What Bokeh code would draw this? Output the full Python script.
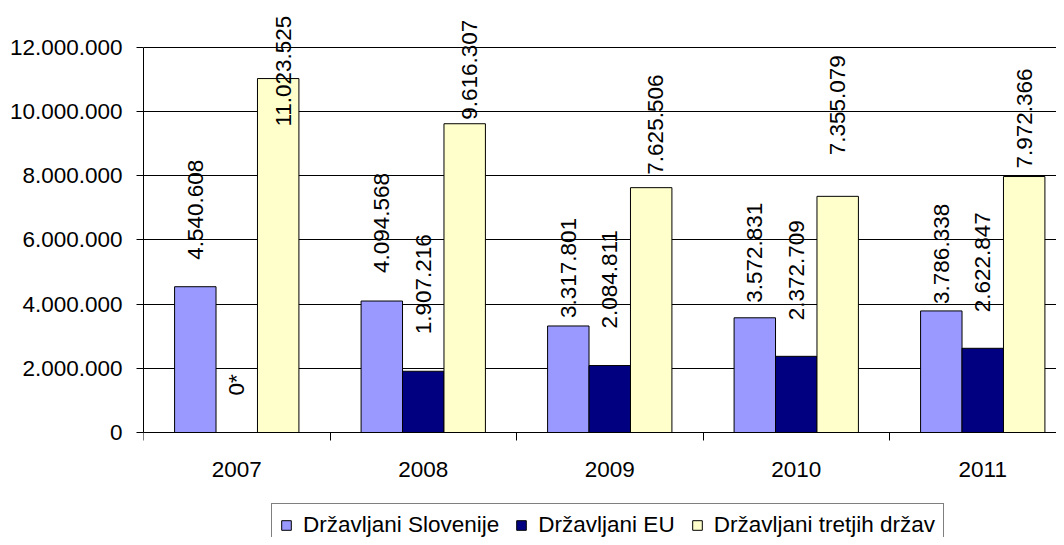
import math
from bokeh.plotting import figure
from bokeh.models import ColumnDataSource, Range1d, FixedTicker, Legend, LegendItem
from bokeh.core.properties import value
from bokeh.embed import file_html
from bokeh.resources import INLINE

# ---------------- data ----------------
years = ["2007", "2008", "2009", "2010", "2011"]
slovenia = [4540608, 4094568, 3317801, 3572831, 3786338]
eu = [0, 1907216, 2084811, 2372709, 2622847]
third = [11023525, 9616307, 7625506, 7355079, 7972366]
series_names = ["Državljani Slovenije", "Državljani EU", "Državljani tretjih držav"]
y_ticks = [0, 2000000, 4000000, 6000000, 8000000, 10000000, 12000000]
zero_note = "*"  # zero EU value is labelled "0*"

# ---------------- layout / style ----------------
FONT = "Liberation Sans"
colors = ["#9999FF", "#000080", "#FFFFCC"]
bar_w = 1 / 4.5
offsets = [-bar_w, 0.0, bar_w]
# manual label placement (pixels): gap above bar top, horizontal nudge
label_gap = [[27, 28, 8, 15, 7], [37, 37, 37, 36, 36], [-48, 4, 13, 41, 8]]
label_dx = [[0, 0, 0, 0, 0], [0, 0, 0, 0, 0], [5, 5, 4, 0, 0]]

W, H = 1056, 537
frame_left = 143
zero_px = 432           # pixel row of value 0 (from top)
px_per_cat = 186.5
px_per_unit = 385.3 / 12000000


def dots(v):
    return f"{v:,}".replace(",", ".")


p = figure(width=W, height=H, output_backend="svg", toolbar_location=None,
           x_range=Range1d(0, (W - frame_left) / px_per_cat),
           y_range=Range1d(-(H - zero_px) / px_per_unit, zero_px / px_per_unit),
           min_border_left=frame_left, min_border_right=0, min_border_top=0,
           min_border_bottom=0)
p.outline_line_color = None
p.background_fill_color = "white"
p.border_fill_color = "white"

series = [slovenia, eu, third]
renderers = []
for s, vals in enumerate(series):
    xs = [i + 0.5 + offsets[s] for i in range(len(years))]
    labels = []
    for v in vals:
        labels.append(dots(v) + (zero_note if v == 0 else ""))
    src = ColumnDataSource(dict(x=xs, top=vals, label=labels,
                                dy=[-g for g in label_gap[s]], dx=label_dx[s]))
    r = p.vbar(x="x", top="top", bottom=0, width=bar_w, source=src,
               fill_color=colors[s], line_color="black", line_width=1)
    renderers.append(r)
    p.text(x="x", y="top", text="label", source=src, angle=math.pi / 2,
           text_align="left", text_baseline="middle", x_offset="dx", y_offset="dy",
           text_font=value(FONT), text_font_size=value("22.5px"), text_color="black")

# x axis (drawn at value 0)
p.xaxis.fixed_location = 0
p.xaxis.ticker = FixedTicker(ticks=[i + 0.5 for i in range(len(years))],
                             minor_ticks=list(range(len(years) + 1)))
p.xaxis.major_label_overrides = {i + 0.5: y for i, y in enumerate(years)}
p.xaxis.major_tick_out = 0
p.xaxis.major_tick_in = 0
p.xaxis.minor_tick_out = 8
p.xaxis.minor_tick_in = 0
p.xaxis.minor_tick_line_color = "black"
p.xaxis.major_label_standoff = 21
p.xgrid.grid_line_color = None

# y axis
p.yaxis.ticker = FixedTicker(ticks=y_ticks, minor_ticks=[])
p.yaxis.bounds = (y_ticks[0], y_ticks[-1])
p.yaxis.major_label_overrides = {t: dots(t) for t in y_ticks}
p.yaxis.major_tick_out = 7
p.yaxis.major_tick_in = 0
p.yaxis.major_tick_line_color = "black"
p.yaxis.major_label_standoff = 14
p.ygrid.ticker = FixedTicker(ticks=y_ticks, minor_ticks=[])
p.ygrid.grid_line_color = "black"
p.ygrid.grid_line_width = 1

for ax in (p.xaxis, p.yaxis):
    ax.axis_line_color = "black"
    ax.major_label_text_font = FONT
    ax.major_label_text_font_size = "22.5px"
    ax.major_label_text_color = "black"

legend = Legend(items=[LegendItem(label=series_names[i], renderers=[renderers[i]])
                       for i in range(3)],
                orientation="horizontal", location=(128, -10))
legend.label_text_font = FONT
legend.label_text_font_size = "22.5px"
legend.label_text_color = "black"
legend.glyph_width = 12
legend.glyph_height = 12
legend.label_standoff = 11
legend.label_height = 22
legend.spacing = 16
legend.padding = 8
legend.margin = 0
legend.border_line_color = "black"
legend.border_line_width = 1
legend.background_fill_color = "white"
legend.background_fill_alpha = 1
p.add_layout(legend, "center")

open("out.html", "w").write(file_html(p, INLINE))
